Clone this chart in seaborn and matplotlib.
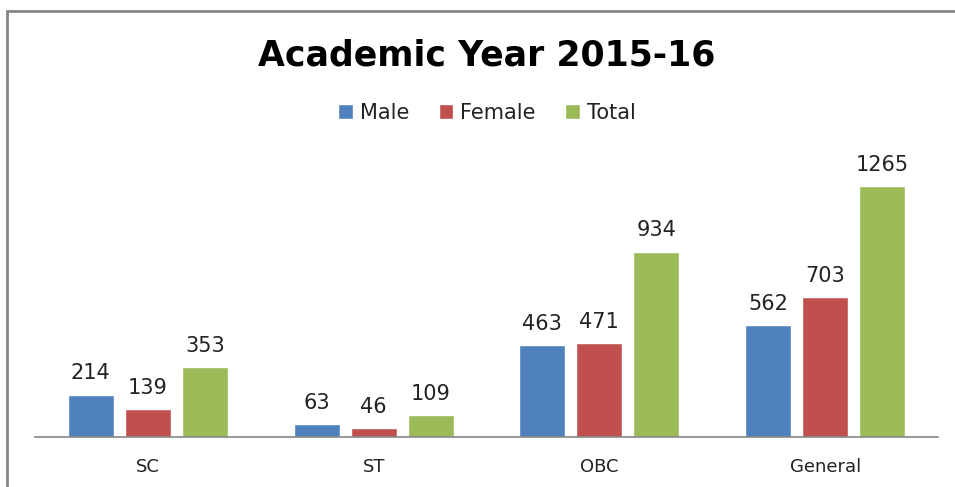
import matplotlib
matplotlib.use("Agg")
import matplotlib.pyplot as plt
import seaborn as sns
import pandas as pd
from matplotlib.patches import Rectangle

categories = ["SC", "ST", "OBC", "General"]
male = [214, 63, 463, 562]
female = [139, 46, 471, 703]
total = [353, 109, 934, 1265]
series_names = ["Male", "Female", "Total"]
colors = ["#4F81BD", "#C0504D", "#9BBB59"]

rows = []
for name, vals in zip(series_names, [male, female, total]):
    for c, v in zip(categories, vals):
        rows.append({"Category": c, "Value": v, "Series": name})
df = pd.DataFrame(rows)

sns.set_theme(style="white")
plt.rcParams["font.family"] = ["DejaVu Sans"]

fig = plt.figure(figsize=(9.55, 4.87), dpi=100)
ax = fig.add_axes([35/955, 1 - 437/487, (938 - 35)/955, (437 - 159)/487])

sns.barplot(data=df, x="Category", y="Value", hue="Series", order=categories,
            hue_order=series_names, palette=colors, width=0.7575, gap=0.19,
            saturation=1, ax=ax, legend=False)

for cont in ax.containers:
    ax.bar_label(cont, padding=8, fontsize=15, color="#222222")

ax.set_ylim(0, 1400)
ax.set_xlim(-0.5, 3.5)
ax.set_xlabel("")
ax.set_ylabel("")
ax.set_yticks([])
for s in ["top", "right", "left"]:
    ax.spines[s].set_visible(False)
ax.spines["bottom"].set_color("#868686")
ax.spines["bottom"].set_linewidth(1.2)
ax.tick_params(axis="x", length=0, pad=15, labelsize=13, labelcolor="#222222")

fig.text(0.51, 1 - 55/487, "Academic Year 2015-16", ha="center", va="center",
         fontsize=25, fontweight="bold", color="black")

handles = [Rectangle((0, 0), 1, 1, facecolor=c) for c in colors]
fig.legend(handles, series_names, loc="center", bbox_to_anchor=(0.51, 1 - 113/487),
           ncol=3, frameon=False, fontsize=15, handlelength=0.7, handleheight=0.7,
           handletextpad=0.35, columnspacing=1.4, labelcolor="#222222")

frame = Rectangle((7/955, -0.1), 1.2, 1 - 11/487 + 0.1, transform=fig.transFigure,
                  fill=False, edgecolor="#868686", linewidth=2, clip_on=False)
fig.patches.append(frame)

fig.savefig("out.png", dpi=100)
